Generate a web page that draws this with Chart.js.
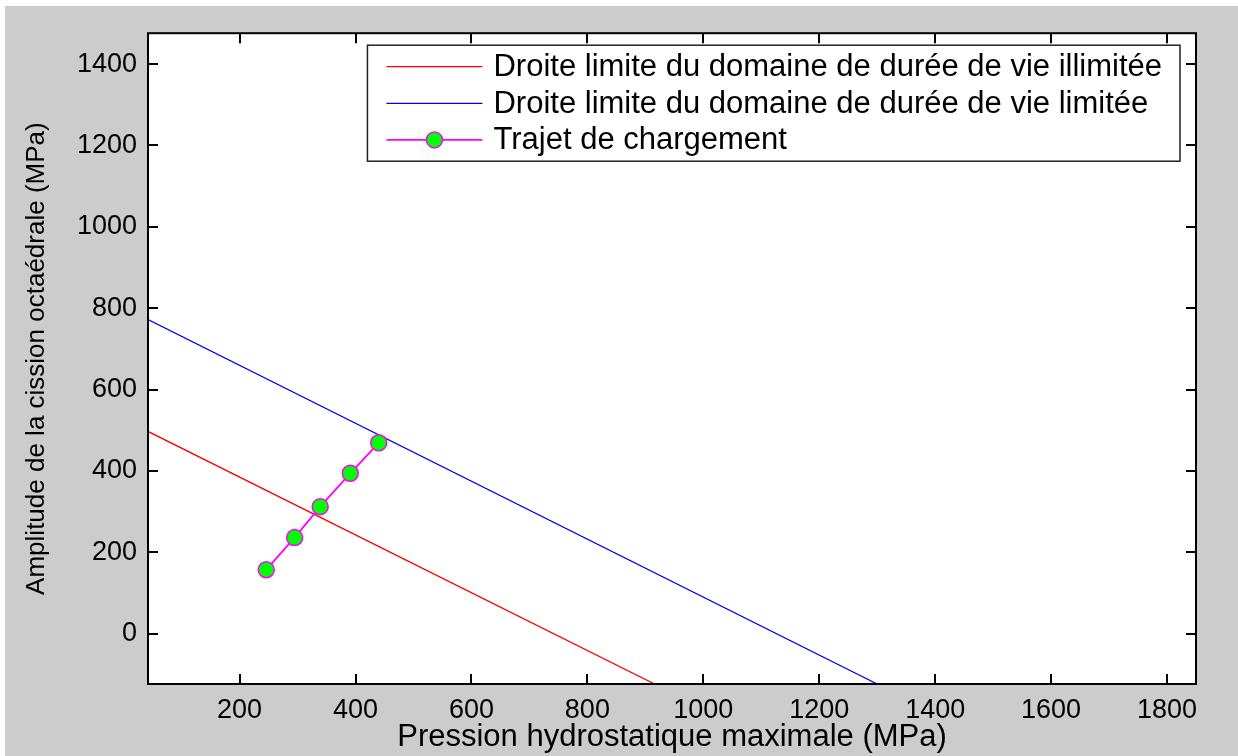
<!DOCTYPE html>
<html>
<head>
<meta charset="utf-8">
<script src="https://cdn.jsdelivr.net/npm/chart.js@4.4.1/dist/chart.umd.min.js"></script>
<style>
  html, body { margin: 0; padding: 0; background: #ffffff; width: 1238px; height: 756px; overflow: hidden; }
  #fig { position: absolute; left: 5px; top: 6px; }
</style>
</head>
<body>
<canvas id="fig" width="1233" height="750"></canvas>
<script>
// Droites limites (pression hydrostatique p, amplitude de cission octaédrale tau), en MPa
const limiteIllimiteeP = [42, 916];
const limiteIllimiteeT = [497, -124];
const limiteLimiteeP = [42, 1300];
const limiteLimiteeT = [772, -124];

// Trajet de chargement
const trajetP = [246, 295, 339, 391, 440];
const trajetT = [157, 236, 312, 394, 469];

// Graduations des axes
const xTicks = [200, 400, 600, 800, 1000, 1200, 1400, 1600, 1800];
const yTicks = [0, 200, 400, 600, 800, 1000, 1200, 1400];
const xRange = [42, 1850];
const yRange = [-124, 1476];

const seriesLabels = [
  'Droite limite du domaine de durée de vie illimitée',
  'Droite limite du domaine de durée de vie limitée',
  'Trajet de chargement'
];
const xTitle = 'Pression hydrostatique maximale (MPa)';
const yTitle = 'Amplitude de la cission octaédrale (MPa)';

const FONT = '"Liberation Sans", Arial, Helvetica, sans-serif';
const toPoints = (xs, ys) => xs.map((x, i) => ({ x: x, y: ys[i] }));

// Fond gris de la figure, zone des axes en blanc
const figureBackground = {
  id: 'figureBackground',
  beforeDraw(chart) {
    const { ctx, chartArea: a } = chart;
    ctx.save();
    ctx.fillStyle = '#cccccc';
    ctx.fillRect(0, 0, chart.width, chart.height);
    ctx.fillStyle = '#ffffff';
    ctx.fillRect(a.left, a.top, a.right - a.left, a.bottom - a.top);
    ctx.restore();
  }
};

// Cadre des axes et graduations tournées vers l'intérieur, sur les quatre côtés
const axesBox = {
  id: 'axesBox',
  afterDatasetsDraw(chart) {
    const { ctx, chartArea: a, scales } = chart;
    const len = 10;
    ctx.save();
    ctx.strokeStyle = '#000000';
    ctx.lineWidth = 2;
    ctx.beginPath();
    xTicks.forEach(v => {
      const px = Math.round(scales.x.getPixelForValue(v));
      ctx.moveTo(px, a.bottom); ctx.lineTo(px, a.bottom - len);
      ctx.moveTo(px, a.top); ctx.lineTo(px, a.top + len);
    });
    yTicks.forEach(v => {
      const py = Math.round(scales.y.getPixelForValue(v));
      ctx.moveTo(a.left, py); ctx.lineTo(a.left + len, py);
      ctx.moveTo(a.right, py); ctx.lineTo(a.right - len, py);
    });
    ctx.stroke();
    ctx.strokeRect(a.left, a.top, a.right - a.left, a.bottom - a.top);
    ctx.restore();
  }
};

// Légende encadrée dans le coin supérieur droit des axes
const boxedLegend = {
  id: 'boxedLegend',
  afterDraw(chart) {
    const { ctx, chartArea: a } = chart;
    const ds = chart.data.datasets;
    const fontSize = 31;
    ctx.save();
    ctx.font = fontSize + 'px ' + FONT;
    const textW = Math.max(...ds.map(d => ctx.measureText(d.label).width));
    const sampleStart = 19, sampleEnd = 115, textStart = 126, rightPad = 18;
    const w = textStart + textW + rightPad;
    const h = 116;
    const right = a.right - 16;
    const left = right - w;
    const top = a.top + 12;
    ctx.fillStyle = '#ffffff';
    ctx.fillRect(left, top, w, h);
    ctx.strokeStyle = '#222222';
    ctx.lineWidth = 1.5;
    ctx.strokeRect(left, top, w, h);
    ds.forEach((d, i) => {
      const y = top + 21.5 + i * 36.6;
      ctx.strokeStyle = d.borderColor;
      ctx.lineWidth = d.borderWidth;
      ctx.beginPath();
      ctx.moveTo(left + sampleStart, y);
      ctx.lineTo(left + sampleEnd, y);
      ctx.stroke();
      if (d.pointRadius > 0) {
        ctx.beginPath();
        ctx.arc(left + (sampleStart + sampleEnd) / 2, y, d.pointRadius, 0, Math.PI * 2);
        ctx.fillStyle = d.pointBackgroundColor;
        ctx.fill();
        ctx.lineWidth = d.pointBorderWidth;
        ctx.strokeStyle = d.pointBorderColor;
        ctx.stroke();
      }
      ctx.fillStyle = '#000000';
      ctx.textAlign = 'left';
      ctx.textBaseline = 'middle';
      ctx.fillText(d.label, left + textStart, y + 1);
    });
    ctx.restore();
  }
};

new Chart(document.getElementById('fig'), {
  type: 'scatter',
  data: {
    datasets: [
      {
        label: seriesLabels[0],
        data: toPoints(limiteIllimiteeP, limiteIllimiteeT),
        showLine: true,
        borderColor: '#ff0000',
        borderWidth: 1.3,
        pointRadius: 0,
        pointHoverRadius: 0,
        order: 3
      },
      {
        label: seriesLabels[1],
        data: toPoints(limiteLimiteeP, limiteLimiteeT),
        showLine: true,
        borderColor: '#0000ff',
        borderWidth: 1.3,
        pointRadius: 0,
        pointHoverRadius: 0,
        order: 2
      },
      {
        label: seriesLabels[2],
        data: toPoints(trajetP, trajetT),
        showLine: true,
        borderColor: '#ff00ff',
        borderWidth: 1.8,
        pointRadius: 8,
        pointHoverRadius: 8,
        pointBackgroundColor: '#00ff00',
        pointBorderColor: '#ff00ff',
        pointBorderWidth: 1.5,
        order: 1
      }
    ]
  },
  options: {
    responsive: false,
    animation: false,
    events: [],
    layout: { padding: { left: 0, top: 24, right: 42, bottom: 0 } },
    plugins: {
      legend: { display: false },
      tooltip: { enabled: false },
      title: { display: false }
    },
    scales: {
      x: {
        type: 'linear',
        position: 'bottom',
        min: xRange[0],
        max: xRange[1],
        afterBuildTicks: s => { s.ticks = xTicks.map(v => ({ value: v })); },
        afterFit: s => { s.height = 72; },
        grid: { display: false, drawTicks: false },
        border: { display: false },
        ticks: {
          color: '#000000',
          padding: 10,
          maxRotation: 0,
          autoSkip: false,
          callback: v => String(v),
          font: { family: FONT, size: 27, lineHeight: 1.2 }
        },
        title: {
          display: true,
          text: xTitle,
          color: '#000000',
          padding: { top: 0, bottom: 0 },
          font: { family: FONT, size: 31, lineHeight: 1.2 }
        }
      },
      y: {
        type: 'linear',
        position: 'left',
        min: yRange[0],
        max: yRange[1],
        afterBuildTicks: s => { s.ticks = yTicks.map(v => ({ value: v })); },
        afterFit: s => { s.width = 143; },
        grid: { display: false, drawTicks: false },
        border: { display: false },
        ticks: {
          color: '#000000',
          padding: 11,
          autoSkip: false,
          callback: v => String(v),
          font: { family: FONT, size: 27, lineHeight: 1.2 }
        },
        title: {
          display: true,
          text: yTitle,
          color: '#000000',
          padding: { top: 16, bottom: 0 },
          font: { family: FONT, size: 26, lineHeight: 1.2 }
        }
      }
    }
  },
  plugins: [figureBackground, axesBox, boxedLegend]
});
</script>
</body>
</html>
